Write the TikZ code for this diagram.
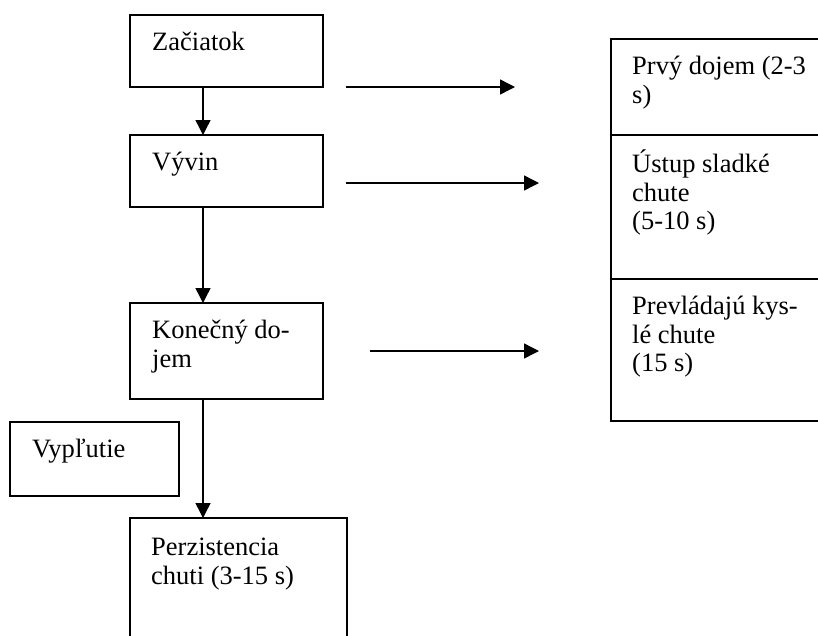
\documentclass[tikz,border=0pt]{standalone}
\usepackage{fontspec}
\setmainfont{Liberation Serif}
\usetikzlibrary{arrows.meta,positioning}

\newcommand{\tstrut}{\rule{0pt}{23pt}}

\tikzset{
  box/.style 2 args={draw, line width=1.5pt, inner sep=0pt, outer sep=0pt,
    minimum width=#1, minimum height=#2},
  txt/.style={inner sep=0pt, align=left, font=\fontsize{26.5}{28.8}\selectfont},
  arr/.style={line width=1.4pt, -{Triangle[length=15pt,width=15pt]}}
}

\begin{document}
\begin{tikzpicture}[x=1pt,y=-1pt]
                            \useasboundingbox (0,0) rectangle (818,635);
                            \clip (0,0) rectangle (818,635);
                            % left column
                            \node[box={193pt}{72pt}, anchor=north west] (zac) at (130,15) {};
                            \node[box={193pt}{72pt}, below=48pt of zac] (vyv) {};
                            \node[box={193pt}{96pt}, below=96pt of vyv] (kon) {};
                            \node[box={169pt}{74pt}, anchor=north west] (vyp) at (10,422) {};
                            \node[box={217pt}{150pt}, anchor=north west] (per) at (130,518) {};
                            % right column
                            \node[box={240pt}{96pt}, anchor=north west] (prv) at (611,39) {};
                            \node[box={240pt}{144pt}, below=0pt of prv] (ust) {};
                            \node[box={240pt}{142pt}, below=0pt of ust] (pre) {};
                            % texts
                            \node[txt, below right=12pt and 22pt of zac.north west] (zact) {\tstrut Začiatok};
                            \node[txt, below right=12pt and 22pt of vyv.north west] (vyvt) {\tstrut Vývin};
                            \node[txt, below right=12pt and 22pt of kon.north west] (kont) {\tstrut Konečný do-\\jem};
                            \node[txt, below right=12pt and 22pt of vyp.north west] (vypt) {\tstrut Vypľutie};
                            \node[txt, below right=14pt and 21pt of per.north west] (pert) {\tstrut Perzistencia\\chuti (3-15 s)};
                            \node[txt, below right=12pt and 21pt of prv.north west] (prvt) {\tstrut Prvý dojem (2-3\\s)};
                            \node[txt, below right=14pt and 21pt of ust.north west] (ustt) {\tstrut Ústup sladké\\chute\\(5-10 s)};
                            \node[txt, below right=12pt and 21pt of pre.north west] (pret) {\tstrut Prevládajú kys-\\lé chute\\(15 s)};
                            % free arrow ends
                            \coordinate (a1s) at (346,87);  \coordinate (a1e) at (515,87);
                            \coordinate (a2s) at (346,183); \coordinate (a2e) at (539,183);
                            \coordinate (a3s) at (370,351); \coordinate (a3e) at (539,351);
                            \path[arr]
                            ([xshift=73pt]zac.south west) edge ([xshift=73pt]vyv.north west)
                            ([xshift=73pt]vyv.south west) edge ([xshift=73pt]kon.north west)
                            ([xshift=73pt]kon.south west) edge ([xshift=73pt]per.north west)
                            (a1s) edge (a1e)
                            (a2s) edge (a2e)
                            (a3s) edge (a3e);
                        \end{tikzpicture}
\end{document}
